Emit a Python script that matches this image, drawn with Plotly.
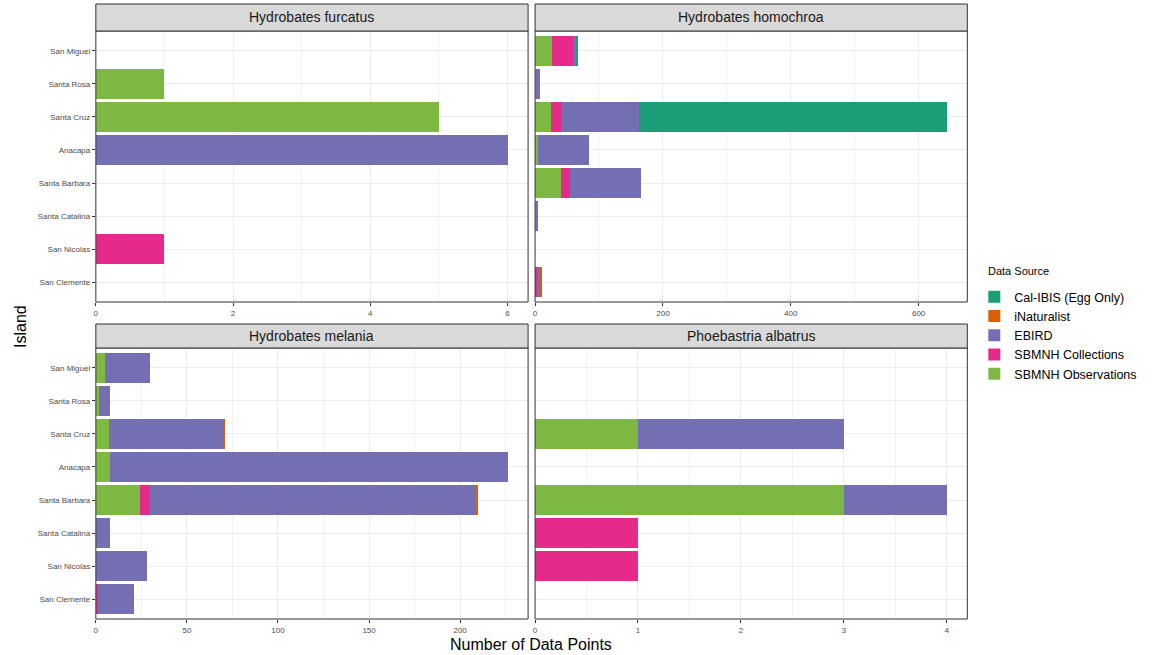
import plotly.graph_objects as go

islands = ["San Miguel", "Santa Rosa", "Santa Cruz", "Anacapa",
           "Santa Barbara", "Santa Catalina", "San Nicolas", "San Clemente"]

species = ["Hydrobates furcatus", "Hydrobates homochroa",
           "Hydrobates melania", "Phoebastria albatrus"]

# stacking order from zero outward
sources = ["SBMNH Observations", "SBMNH Collections", "EBIRD",
           "iNaturalist", "Cal-IBIS (Egg Only)"]
colors = ["#7DB942", "#E62A89", "#746FB2", "#D95F02", "#1B9E77"]

furcatus_obs = [0, 1, 5, 0, 0, 0, 0, 0]
furcatus_coll = [0, 0, 0, 0, 0, 0, 1, 0]
furcatus_ebird = [0, 0, 0, 6, 0, 0, 0, 0]
furcatus_inat = [0, 0, 0, 0, 0, 0, 0, 0]
furcatus_calibis = [0, 0, 0, 0, 0, 0, 0, 0]

homochroa_obs = [26, 1, 25, 5, 40, 1, 0, 0]
homochroa_coll = [33, 0, 16, 0, 15, 0, 0, 3]
homochroa_ebird = [6, 7, 122, 79, 111, 4, 0, 6]
homochroa_inat = [0, 0, 0, 0, 0, 0, 0, 2]
homochroa_calibis = [1, 0, 481, 0, 0, 0, 0, 0]

melania_obs = [5, 2, 7, 8, 24, 0, 0, 0]
melania_coll = [0, 0, 0, 0, 6, 0, 0, 1]
melania_ebird = [25, 6, 63, 218, 178, 8, 28, 20]
melania_inat = [0, 0, 1, 0, 2, 0, 0, 0]
melania_calibis = [0, 0, 0, 0, 0, 0, 0, 0]

albatrus_obs = [0, 0, 1, 0, 3, 0, 0, 0]
albatrus_coll = [0, 0, 0, 0, 0, 1, 1, 0]
albatrus_ebird = [0, 0, 2, 0, 1, 0, 0, 0]
albatrus_inat = [0, 0, 0, 0, 0, 0, 0, 0]
albatrus_calibis = [0, 0, 0, 0, 0, 0, 0, 0]

data = {
    "Hydrobates furcatus": [furcatus_obs, furcatus_coll, furcatus_ebird, furcatus_inat, furcatus_calibis],
    "Hydrobates homochroa": [homochroa_obs, homochroa_coll, homochroa_ebird, homochroa_inat, homochroa_calibis],
    "Hydrobates melania": [melania_obs, melania_coll, melania_ebird, melania_inat, melania_calibis],
    "Phoebastria albatrus": [albatrus_obs, albatrus_coll, albatrus_ebird, albatrus_inat, albatrus_calibis],
}
x_dticks = [2, 200, 50, 1]

W, H = 1155, 655
# panel pixel boxes: (x0, x1, y0, y1) top-down pixels
panels = [(94, 527, 31, 302), (534, 967, 31, 302),
          (94, 527, 348, 619), (534, 967, 348, 619)]
strips = [(4, 31), (4, 31), (324, 348), (324, 348)]

fig = go.Figure()
FONT = "Liberation Sans, Arial, sans-serif"

for i, sp in enumerate(species):
    xa = "x" if i == 0 else f"x{i+1}"
    ya = "y" if i == 0 else f"y{i+1}"
    for s, (src, col) in enumerate(zip(sources, colors)):
        fig.add_trace(go.Bar(
            y=islands, x=data[sp][s], orientation="h",
            name=src, marker=dict(color=col, line=dict(width=0)),
            xaxis=xa, yaxis=ya, legendgroup=src, showlegend=(i == 0),
        ))

layout = {}
for i, sp in enumerate(species):
    x0, x1, y0, y1 = panels[i]
    totals = [sum(v) for v in zip(*data[sp])]
    xmax = max(totals) * 1.05
    kx = "xaxis" if i == 0 else f"xaxis{i+1}"
    ky = "yaxis" if i == 0 else f"yaxis{i+1}"
    layout[kx] = dict(
        domain=[x0 / W, x1 / W], anchor="y" if i == 0 else f"y{i+1}",
        range=[0, xmax], dtick=x_dticks[i], tick0=0,
        showgrid=True, gridcolor="#EBEBEB", gridwidth=1,
        minor=dict(showgrid=True, dtick=x_dticks[i] / 2, gridcolor="#F2F2F2", gridwidth=0.6),
        zeroline=False, ticks="outside", ticklen=3, tickcolor="#333333",
        tickfont=dict(size=8, color="#4D4D4D", family=FONT),
        showline=False,
    )
    layout[ky] = dict(
        domain=[1 - y1 / H, 1 - y0 / H], anchor="x" if i == 0 else f"x{i+1}",
        type="category", categoryorder="array", categoryarray=islands,
        range=[7.6, -0.6],
        showgrid=True, gridcolor="#EBEBEB", gridwidth=1,
        zeroline=False,
        ticks="outside" if i in (0, 2) else "", ticklen=3, tickcolor="#333333",
        showticklabels=(i in (0, 2)),
        tickfont=dict(size=8, color="#4D4D4D", family=FONT),
        showline=False,
    )

shapes = []
annotations = []
for i, sp in enumerate(species):
    x0, x1, y0, y1 = panels[i]
    s0, s1 = strips[i]
    shapes.append(dict(type="rect", xref="paper", yref="paper",
                       x0=x0 / W, x1=x1 / W, y0=1 - y1 / H, y1=1 - y0 / H,
                       line=dict(color="#333333", width=1), fillcolor="rgba(0,0,0,0)",
                       layer="above"))
    shapes.append(dict(type="rect", xref="paper", yref="paper",
                       x0=x0 / W, x1=x1 / W, y0=1 - s1 / H, y1=1 - s0 / H,
                       line=dict(color="#333333", width=1), fillcolor="#D9D9D9"))
    annotations.append(dict(text=sp, xref="paper", yref="paper",
                            x=(x0 + x1) / 2 / W, y=1 - (s0 + s1) / 2 / H,
                            showarrow=False, xanchor="center", yanchor="middle",
                            font=dict(size=14, color="#1A1A1A", family=FONT)))

annotations.append(dict(text="Number of Data Points", xref="paper", yref="paper",
                        x=530 / W, y=1 - 644 / H, showarrow=False,
                        xanchor="center", yanchor="middle",
                        font=dict(size=16, color="#000000", family=FONT)))
annotations.append(dict(text="Island", xref="paper", yref="paper",
                        x=18 / W, y=1 - 326 / H, showarrow=False, textangle=-90,
                        xanchor="center", yanchor="middle",
                        font=dict(size=16, color="#000000", family=FONT)))
annotations.append(dict(text="Data Source", xref="paper", yref="paper",
                        x=986 / W, y=1 - 271 / H, showarrow=False,
                        xanchor="left", yanchor="middle",
                        font=dict(size=11, color="#000000", family=FONT)))

fig.update_layout(
    width=W, height=H,
    margin=dict(l=0, r=0, t=0, b=0),
    paper_bgcolor="white", plot_bgcolor="white",
    barmode="stack", bargap=0.1,
    font=dict(family=FONT),
    shapes=shapes, annotations=annotations,
    legend=dict(x=974 / W, y=1 - 282 / H, xanchor="left", yanchor="top",
                traceorder="reversed",
                font=dict(size=12.5, color="#000000"),
                bgcolor="rgba(0,0,0,0)", tracegroupgap=0),
    **layout,
)

fig.write_html("out.html", config={"displayModeBar": False},
               post_script="document.body.style.margin='0px';document.body.style.overflow='hidden';")
